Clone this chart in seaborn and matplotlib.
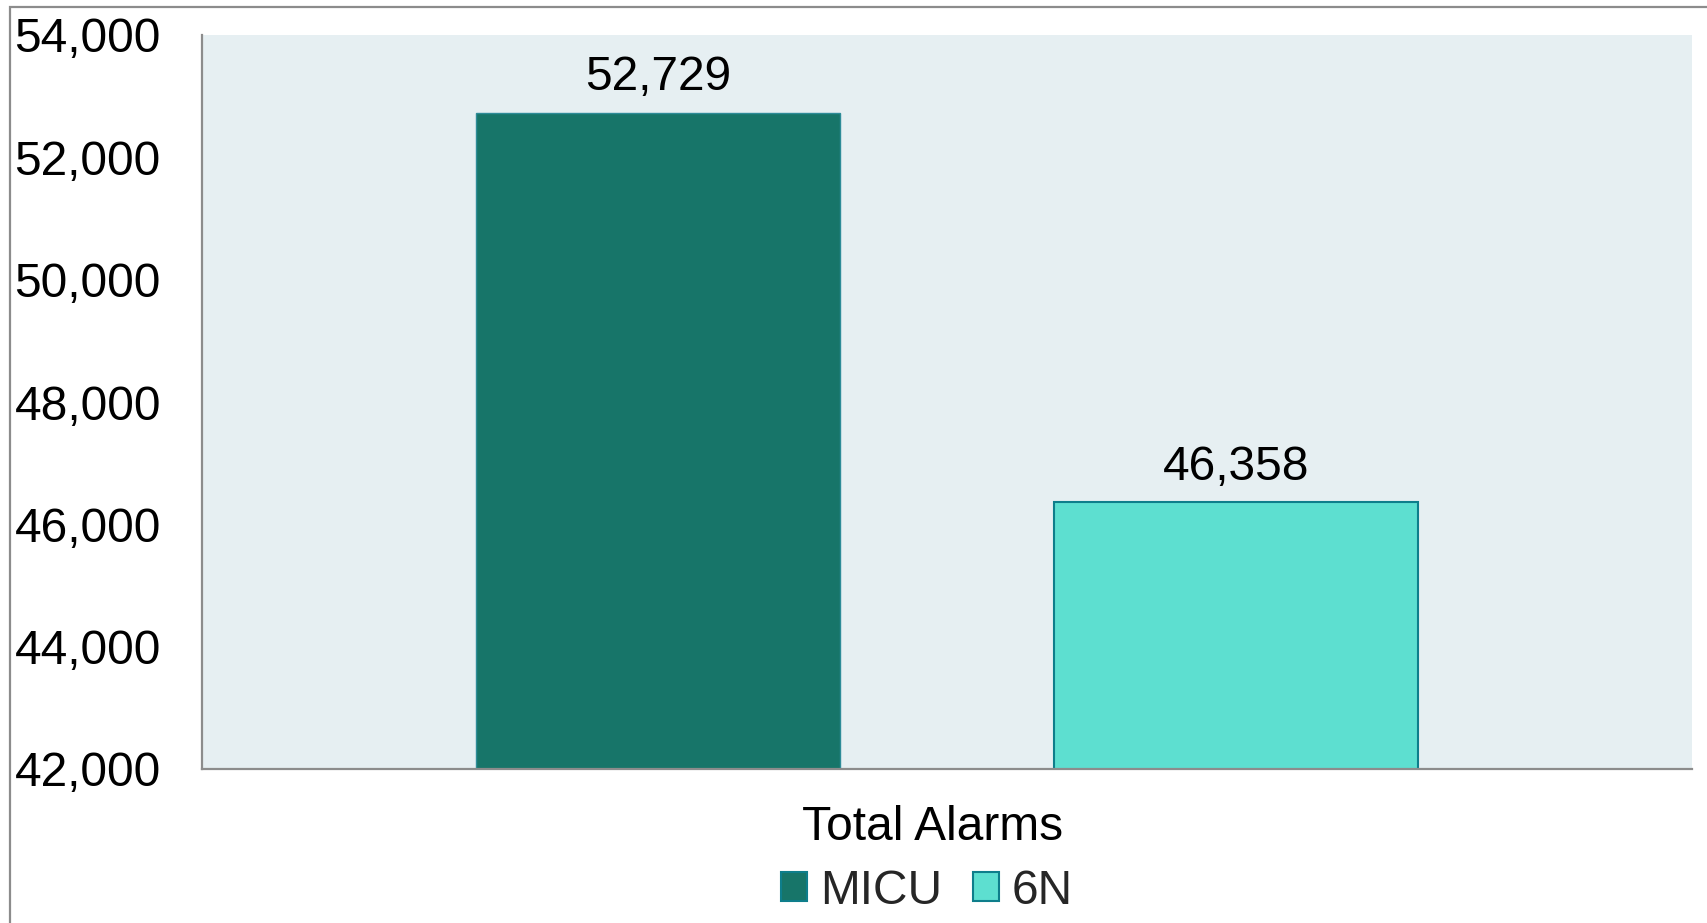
import matplotlib
matplotlib.use("Agg")
import matplotlib.pyplot as plt
import matplotlib.transforms as mtransforms
from matplotlib.patches import Rectangle, Patch
from matplotlib.ticker import FuncFormatter, MultipleLocator
import seaborn as sns
import pandas as pd

# Alarm counts per unit
metric = ["Total Alarms", "Total Alarms"]
units = ["MICU", "6N"]
alarms = [52729, 46358]

fills = {"MICU": "#177569", "6N": "#5ddfd0"}
edges = {"MICU": "#2e8c98", "6N": "#0e7e8b"}
FS = 34.5

sns.set_theme(style="white")
plt.rcParams["font.family"] = ["Liberation Sans", "DejaVu Sans"]

df = pd.DataFrame({"metric": metric, "unit": units, "alarms": alarms})

fig = plt.figure(figsize=(17.07, 9.23), dpi=100)
ax = fig.add_axes([202 / 1707, 1 - 769 / 923, 1490 / 1707, 734 / 923])
ax.set_facecolor("#e6eff2")

sns.barplot(data=df, x="metric", y="alarms", hue="unit", hue_order=units,
            palette=fills, width=0.776, gap=0.371, legend=False, ax=ax,
            saturation=1, err_kws={"linewidth": 0})

for cont, u in zip(ax.containers, units):
    for p in cont.patches:
        p.set_edgecolor(edges[u])
        p.set_linewidth(1.5 if u == "6N" else 1.0)
    ax.bar_label(cont, labels=[f"{v:,.0f}" for v in cont.datavalues],
                 padding=9, fontsize=FS, color="black")

ax.set_ylim(42000, 54000)
ax.yaxis.set_major_locator(MultipleLocator(2000))
ax.yaxis.set_major_formatter(FuncFormatter(lambda v, _: f"{v:,.0f}"))
ax.tick_params(axis="y", labelsize=FS, pad=135, length=0, labelcolor="black")
ax.tick_params(axis="x", labelsize=FS, pad=26, length=0, labelcolor="black")
for lab in ax.get_yticklabels():
    lab.set_horizontalalignment("left")
shift = mtransforms.ScaledTranslation(-14 / 100, 0, fig.dpi_scale_trans)
for lab in ax.get_xticklabels():
    lab.set_transform(lab.get_transform() + shift)
ax.set_xlabel("")
ax.set_ylabel("")

for s in ["top", "right"]:
    ax.spines[s].set_visible(False)
for s in ["left", "bottom"]:
    ax.spines[s].set_color("#8c8c8c")
    ax.spines[s].set_linewidth(1.6)

handles = [Patch(facecolor=fills[u], edgecolor=edges["6N"], linewidth=1.5, label=u)
           for u in units]
fig.legend(handles=handles, loc="center", bbox_to_anchor=(927 / 1707, 1 - 891 / 923),
           ncol=2, frameon=False, fontsize=FS, handlelength=0.54, handleheight=0.54,
           handletextpad=0.26, columnspacing=0.65, borderpad=0)

# Outer chart frame
fig.patches.append(Rectangle((10 / 1707, -0.05), 1.2, 1 - 7 / 923 + 0.05,
                             transform=fig.transFigure, fill=False,
                             edgecolor="#8c8c8c", linewidth=1.6))

fig.savefig("out.png", dpi=100, facecolor="white")
